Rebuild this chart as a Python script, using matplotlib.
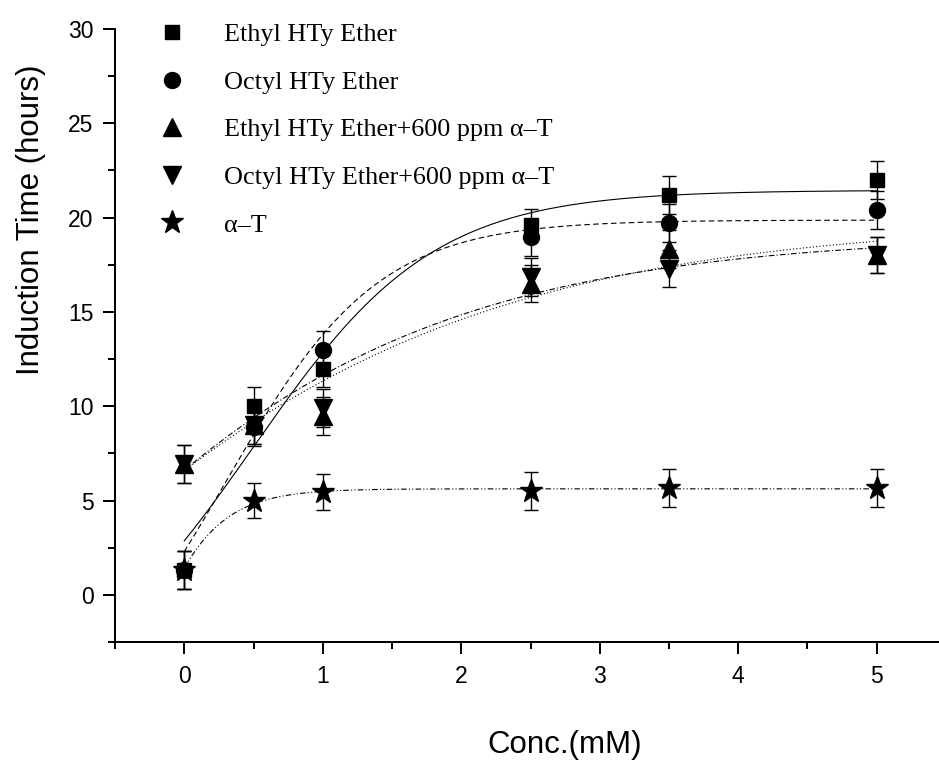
import numpy as np
import matplotlib
matplotlib.use("Agg")
import matplotlib.pyplot as plt
from matplotlib.lines import Line2D
from matplotlib.ticker import MultipleLocator

# ─────────────────────────────────────────────
# DATA
# ─────────────────────────────────────────────
conc = [0, 0.5, 1, 2.5, 3.5, 5]

ethyl      = [1.3, 10.0, 12.0, 19.6, 21.2, 22.0]
octyl      = [1.3, 8.9, 13.0, 18.95, 19.7, 20.4]
ethyl_at   = [6.95, 9.0, 9.5, 16.5, 18.35, 18.0]
octyl_at   = [6.95, 9.0, 9.9, 16.85, 17.3, 18.0]
alpha_t    = [1.3, 5.0, 5.45, 5.5, 5.65, 5.65]

ethyl_err    = [1.0, 1.0, 1.0, 0.85, 1.0, 1.0]
octyl_err    = [1.0, 1.0, 1.0, 1.0, 1.0, 1.0]
ethyl_at_err = [1.0, 1.0, 1.0, 1.0, 1.0, 0.95]
octyl_at_err = [1.0, 1.0, 1.0, 1.0, 1.0, 0.95]
alpha_t_err  = [1.0, 0.95, 0.95, 1.0, 1.0, 1.0]

labels = ["Ethyl HTy Ether",
          "Octyl HTy Ether",
          "Ethyl HTy Ether+600 ppm \u03b1\u2013T",
          "Octyl HTy Ether+600 ppm \u03b1\u2013T",
          "\u03b1\u2013T"]

# Boltzmann fit parameters (A1, A2, x0, dx) of the drawn fit curves
fit_ethyl    = (-5.75, 21.45, 0.5, 0.65)
fit_octyl    = (-7.89, 19.87, 0.3, 0.55)
fit_ethyl_at = (-33.6, 19.82, -2.0, 1.8)
fit_octyl_at = (-37.0, 19.10, -2.0, 1.6)
fit_alpha_t  = (-23.7, 5.62, -0.5, 0.28)


def boltzmann(x, a1, a2, x0, dx):
    return a2 + (a1 - a2) / (1.0 + np.exp((x - x0) / dx))


# ─────────────────────────────────────────────
# PLOT
# ─────────────────────────────────────────────
plt.rcParams["font.family"] = ["Liberation Sans", "DejaVu Sans"]

fig = plt.figure(figsize=(9.39, 7.62), dpi=100)
ax = fig.add_axes([115 / 939, 120 / 762, 831 / 939, 613 / 762])

series = [
    (ethyl,    ethyl_err,    fit_ethyl,    "s", 9.8,  "-"),
    (octyl,    octyl_err,    fit_octyl,    "o", 11.5, (0, (5, 3))),
    (ethyl_at, ethyl_at_err, fit_ethyl_at, "^", 12.5, (0, (1, 2))),
    (octyl_at, octyl_at_err, fit_octyl_at, "v", 12.5, (0, (5, 2, 1, 2))),
    (alpha_t,  alpha_t_err,  fit_alpha_t,  "*", 17.0, (0, (5, 2, 1, 2, 1, 2))),
]

xs = np.linspace(0, 5, 300)
handles = []
for vals, errs, fit, mk, ms, ls in series:
    ax.plot(xs, boltzmann(xs, *fit), color="black", lw=0.8, linestyle=ls)
    ax.errorbar(conc, vals, yerr=errs, fmt="none", ecolor="black",
                elinewidth=1.0, capsize=4.7, capthick=1.0, zorder=3)
    ax.plot(conc, vals, linestyle="none", marker=mk, markersize=ms,
            color="black", zorder=4)
    handles.append(Line2D([], [], linestyle="none", marker=mk,
                          markersize=ms, color="black"))

ax.set_xlim(-0.5, 5.5)
ax.set_ylim(-2.5, 30)
ax.xaxis.set_major_locator(MultipleLocator(1))
ax.xaxis.set_minor_locator(MultipleLocator(0.5))
ax.yaxis.set_major_locator(MultipleLocator(5))
ax.yaxis.set_minor_locator(MultipleLocator(2.5))

for side in ("top", "right"):
    ax.spines[side].set_visible(False)
for side in ("left", "bottom"):
    ax.spines[side].set_linewidth(1.44)

ax.tick_params(which="major", direction="out", length=8.6, width=1.44,
               labelsize=16.5)
ax.tick_params(which="minor", direction="out", length=5, width=1.44)
ax.tick_params(axis="x", which="major", pad=8.0)
ax.tick_params(axis="y", which="major", pad=6.8)

ax.set_xlabel("Conc.(mM)", fontsize=22.5)
ax.xaxis.set_label_coords((565 - 115) / 831, -(730 - 642) / 613)
ax.set_ylabel("Induction Time (hours)", fontsize=22.5, va="center")
ax.yaxis.set_label_coords(-(115 - 31) / 831, (642 - 220) / 613)

ax.legend(handles, labels, loc="upper left",
          bbox_to_anchor=(151.5 / 939, 1 - 23 / 762),
          bbox_transform=fig.transFigure,
          frameon=False, borderpad=0, borderaxespad=0,
          handlelength=1.6, handletextpad=1.17, labelspacing=0.93,
          prop={"family": ["Liberation Serif", "DejaVu Serif"], "size": 18.8})

fig.savefig("out.png", dpi=100)
